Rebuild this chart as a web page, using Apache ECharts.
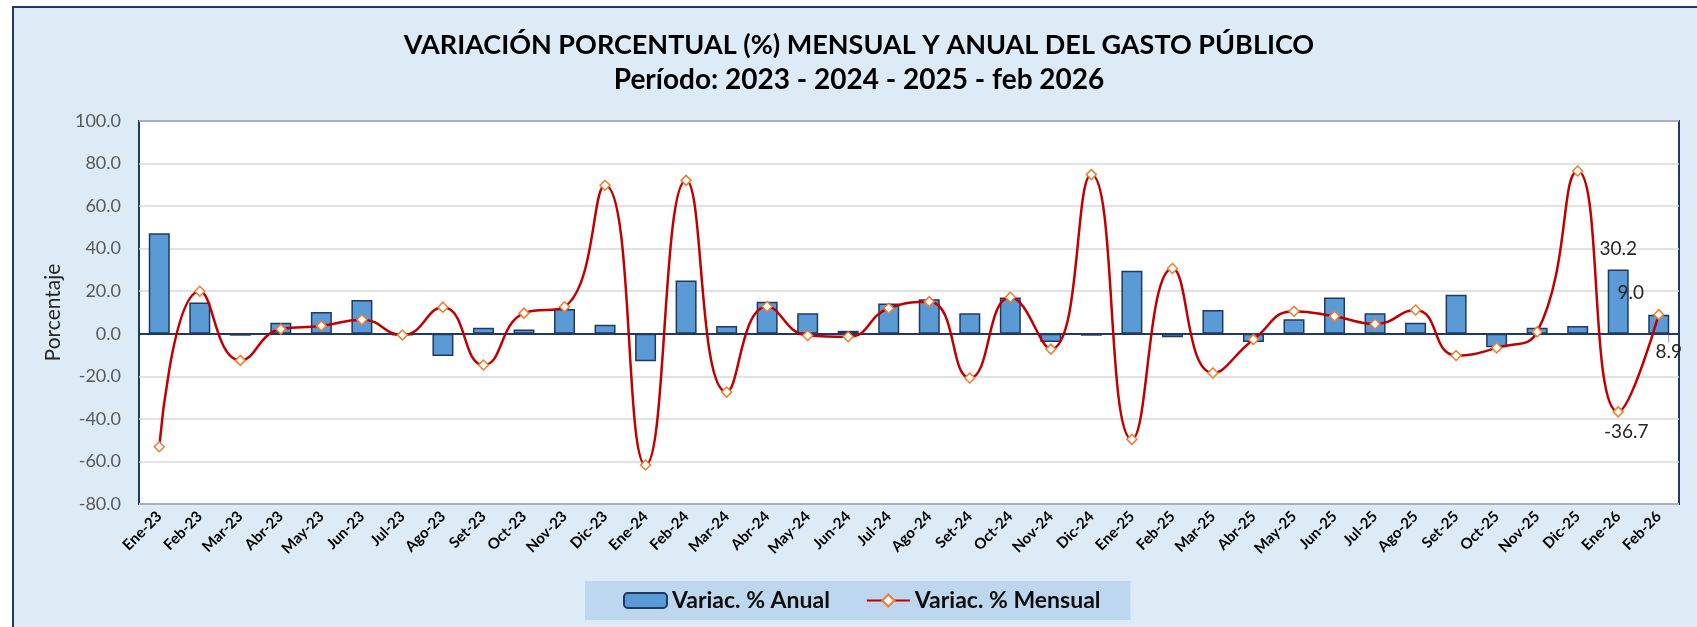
<!DOCTYPE html>
<html>
<head>
<meta charset="utf-8">
<script src="https://cdn.jsdelivr.net/npm/echarts@6/dist/echarts.min.js"></script>
<style>
  html, body { margin: 0; padding: 0; background: #fff; }
  #canvas { width: 1697px; height: 627px; }
</style>
</head>
<body>
<div id="canvas"></div>
<script>
const categories = [
  'Ene-23', 'Feb-23', 'Mar-23', 'Abr-23', 'May-23', 'Jun-23', 'Jul-23', 'Ago-23', 'Set-23', 'Oct-23', 'Nov-23', 'Dic-23',
  'Ene-24', 'Feb-24', 'Mar-24', 'Abr-24', 'May-24', 'Jun-24', 'Jul-24', 'Ago-24', 'Set-24', 'Oct-24', 'Nov-24', 'Dic-24',
  'Ene-25', 'Feb-25', 'Mar-25', 'Abr-25', 'May-25', 'Jun-25', 'Jul-25', 'Ago-25', 'Set-25', 'Oct-25', 'Nov-25', 'Dic-25',
  'Ene-26', 'Feb-26'
];

// Variac. % Anual (barras)
const anual = [
  47.2, 14.7, -0.9, 5.2, 10.2, 15.9, -0.8, -10.5, 2.8, 2.0, 11.7, 4.3,
  -12.9, 25.0, 3.6, 15.0, 9.6, 1.4, 14.2, 16.2, 9.6, 17.0, -3.9, -0.9,
  29.6, -1.6, 11.2, -3.9, 6.8, 17.0, 9.6, 5.2, 18.4, -6.3, 2.8, 3.6,
  30.2, 8.9
];

// Variac. % Mensual (linea)
const mensual = [
  -53.1, 20.0, -12.5, 2.2, 3.7, 6.6, -0.6, 12.5, -14.7, 9.7, 12.7, 69.8,
  -61.7, 72.1, -27.4, 12.8, -0.8, -1.4, 12.0, 15.1, -20.8, 17.2, -7.2, 74.8,
  -49.6, 30.7, -18.4, -2.7, 10.6, 8.2, 4.6, 11.2, -10.2, -6.6, 0.9, 76.5,
  -36.7, 9.0
];

const yTicks = { min: -80, max: 100, step: 20 };

const FONT = 'Lato, "Open Sans", sans-serif';
const NAVY = '#1F3864';
const labelText = { fontFamily: FONT, fontSize: 19, color: '#262626' };

const barData = anual.map((v, i) => {
  if (i === 36) return { value: v, label: { show: true, position: 'top', distance: 11 }, labelLine: { show: false } };
  if (i === 37) return { value: v, label: { show: true, position: 'top' } };
  return v;
});

const lineData = mensual.map((v, i) => {
  if (i === 36) return { value: v, label: { show: true, position: 'bottom', offset: [8, 0] } };
  if (i === 37) return { value: v, label: { show: true, position: 'top', offset: [-28, -2] } };
  return v;
});

const chart = echarts.init(document.getElementById('canvas'));

const option = {
  backgroundColor: '#DDEBF7',
  animation: false,
  graphic: [
    { type: 'rect', shape: { x: 0, y: 0, width: 1697, height: 7 }, style: { fill: '#fff' } },
    { type: 'rect', shape: { x: 0, y: 0, width: 13, height: 627 }, style: { fill: '#fff' } },
    { type: 'polyline', shape: { points: [[13, 640], [13, 7], [1700, 7]] }, style: { stroke: NAVY, lineWidth: 2, fill: null } },
    {
      type: 'text', x: 859, y: 45,
      style: {
        text: 'VARIACIÓN PORCENTUAL (%) MENSUAL Y ANUAL DEL GASTO PÚBLICO',
        font: 'bold 27px ' + FONT, fill: '#000', align: 'center', verticalAlign: 'middle'
      }
    },
    {
      type: 'text', x: 859, y: 80,
      style: {
        text: 'Período: 2023 - 2024 - 2025 - feb 2026',
        font: 'bold 28px ' + FONT, fill: '#000', align: 'center', verticalAlign: 'middle'
      }
    }
  ],
  legend: {
    left: 585,
    top: 581,
    padding: [8, 30, 8, 38],
    backgroundColor: '#BDD7EE',
    itemGap: 36,
    itemWidth: 43,
    itemHeight: 15,
    textStyle: { fontFamily: FONT, fontSize: 23, fontWeight: 'bold', color: '#0D0D0D' },
    data: ['Variac. % Anual', 'Variac. % Mensual']
  },
  grid: {
    left: 139,
    top: 121,
    width: 1540,
    height: 383,
    show: true,
    backgroundColor: '#fff',
    borderColor: NAVY,
    borderWidth: 2
  },
  xAxis: {
    type: 'category',
    data: categories,
    axisLine: { show: false },
    axisTick: { show: false },
    axisLabel: {
      interval: 0,
      rotate: 45,
      margin: 10,
      fontFamily: FONT,
      fontSize: 15,
      fontWeight: 'bold',
      color: '#000'
    }
  },
  yAxis: {
    type: 'value',
    min: yTicks.min,
    max: yTicks.max,
    interval: yTicks.step,
    name: 'Porcentaje',
    nameLocation: 'middle',
    nameGap: 70,
    nameTextStyle: { fontFamily: FONT, fontSize: 21, color: '#262626' },
    axisLine: { show: false },
    axisTick: { show: false },
    axisLabel: {
      margin: 18,
      fontFamily: FONT,
      fontSize: 18,
      color: '#595959',
      formatter: (v) => v.toFixed(1)
    },
    splitLine: { lineStyle: { color: '#D9D9D9', width: 1.5 } }
  },
  series: [
    {
      name: 'Variac. % Anual',
      type: 'bar',
      barWidth: 21,
      data: barData,
      itemStyle: { color: '#5B9BD5', borderColor: NAVY, borderWidth: 1.5 },
      label: Object.assign({ show: false, formatter: (p) => p.value.toFixed(1) }, labelText),
      labelLayout: (p) => (p.dataIndex === 37 ? { dx: 10, dy: 52 } : {}),
      labelLine: { show: true, lineStyle: { color: '#A6A6A6', width: 1 } },
      markLine: {
        silent: true,
        symbol: 'none',
        label: { show: false },
        lineStyle: { color: NAVY, width: 2, type: 'solid' },
        data: [{ yAxis: 0 }]
      }
    },
    {
      name: 'Variac. % Mensual',
      type: 'line',
      smooth: 0.5,
      data: lineData,
      z: 5,
      symbol: 'diamond',
      symbolSize: 10,
      lineStyle: { color: '#C00000', width: 2.5 },
      itemStyle: { color: '#fff', borderColor: '#ED7D31', borderWidth: 1.5 },
      label: Object.assign({ show: false, formatter: (p) => p.value.toFixed(1) }, labelText)
    }
  ]
};

chart.setOption(option);

window.onresize = chart.resize;
</script>
</body>
</html>
